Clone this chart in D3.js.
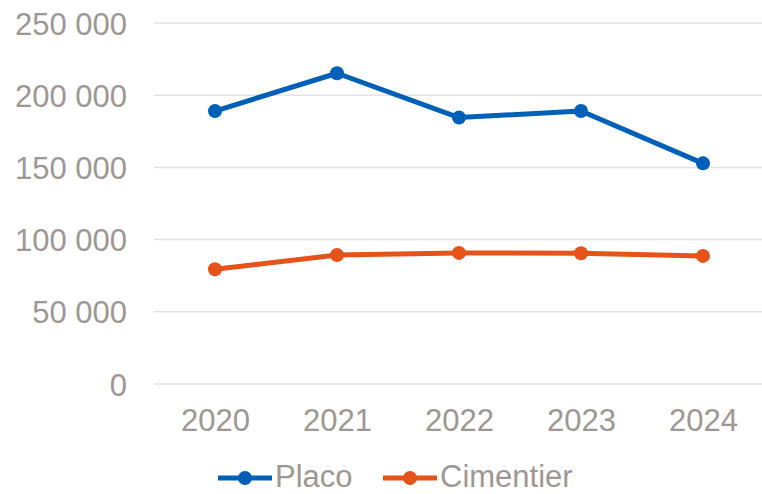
<!DOCTYPE html>
<html>
<head>
<meta charset="utf-8">
<script src="https://cdn.jsdelivr.net/npm/d3@7"></script>
<style>
  body { margin: 0; background: #fff; }
  text { font-family: "Liberation Sans", Arial, sans-serif; }
</style>
</head>
<body>
<div id="chart"></div>
<script>
// data
var years = ["2020", "2021", "2022", "2023", "2024"];
var placo = [189000, 215200, 184500, 189100, 152800];
var cimentier = [79500, 89300, 90800, 90500, 88700];
var yTicks = [0, 50000, 100000, 150000, 200000, 250000];
var seriesNames = ["Placo", "Cimentier"];
var seriesColors = ["#0060B8", "#E5531B"];

var width = 762, height = 494;
var textColor = "#9e9793";
var fontSize = "31px";

var svg = d3.select("#chart").append("svg")
    .attr("width", width)
    .attr("height", height);

var x = d3.scalePoint()
    .domain(years)
    .range([154, 764])
    .padding(0.5);

var y = d3.scaleLinear()
    .domain([0, 250000])
    .range([384, 23]);

var fr = d3.formatLocale({ decimal: ",", thousands: " ", grouping: [3], currency: ["", " €"] });
var fmt = fr.format(",d");

// gridlines
svg.append("g").selectAll("line")
    .data(yTicks)
    .enter().append("line")
    .attr("x1", 154).attr("x2", 764)
    .attr("y1", function(d) { return y(d); })
    .attr("y2", function(d) { return y(d); })
    .attr("stroke", "#e3e3e3")
    .attr("stroke-width", 1.5);

// y labels
var yAxis = d3.axisLeft(y).tickValues(yTicks).tickFormat(fmt).tickSize(0).tickPadding(0);
var gy = svg.append("g").attr("transform", "translate(127,0)").call(yAxis);
gy.select(".domain").remove();
gy.selectAll("text")
    .attr("fill", textColor)
    .style("font-size", fontSize)
    .attr("dy", "0.36em");

// x labels
var xAxis = d3.axisBottom(x).tickSize(0).tickPadding(0);
var gx = svg.append("g").attr("transform", "translate(0,409)").call(xAxis);
gx.select(".domain").remove();
gx.selectAll("text")
    .attr("fill", textColor)
    .style("font-size", fontSize)
    .attr("dy", "0.7em");

var line = d3.line()
    .x(function(d, i) { return x(years[i]); })
    .y(function(d) { return y(d); });

[placo, cimentier].forEach(function(vals, k) {
    var g = svg.append("g");
    g.append("path")
        .datum(vals)
        .attr("d", line)
        .attr("fill", "none")
        .attr("stroke", seriesColors[k])
        .attr("stroke-width", 5)
        .attr("stroke-linejoin", "round");
    g.selectAll("circle")
        .data(vals)
        .enter().append("circle")
        .attr("cx", function(d, i) { return x(years[i]); })
        .attr("cy", function(d) { return y(d); })
        .attr("r", 7)
        .attr("fill", seriesColors[k]);
});

// legend (kept just inside the bottom edge)
var legendX = [218, 383];
var leg = svg.append("g").selectAll("g")
    .data(seriesNames)
    .enter().append("g")
    .attr("transform", function(d, i) { return "translate(" + legendX[i] + ",478)"; });
leg.append("line")
    .attr("x1", 0).attr("x2", 54)
    .attr("stroke", function(d, i) { return seriesColors[i]; })
    .attr("stroke-width", 5);
leg.append("circle")
    .attr("cx", 27).attr("r", 7)
    .attr("fill", function(d, i) { return seriesColors[i]; });
leg.append("text")
    .attr("x", 57)
    .attr("dy", "0.3em")
    .attr("fill", textColor)
    .style("font-size", fontSize)
    .text(function(d) { return d; });
</script>
</body>
</html>
